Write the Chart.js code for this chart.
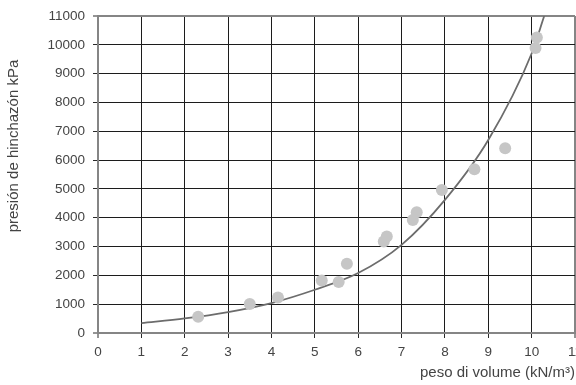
<!DOCTYPE html>
<html>
<head>
<meta charset="utf-8">
<script src="https://cdn.jsdelivr.net/npm/chart.js@4/dist/chart.umd.min.js"></script>
<style>
  html, body { margin: 0; padding: 0; background: #fff; }
  #wrap { width: 576px; height: 385px; }
</style>
</head>
<body>
<div id="wrap"><canvas id="grafico"></canvas></div>
<script>
/** datos medidos (peso di volume kN/m3 , presion kPa) */
let puntos_x = [2.31, 3.50, 4.15, 5.16, 5.55, 5.74, 6.59, 6.66, 7.26, 7.35, 7.93, 8.68, 9.39, 10.09, 10.12]
let puntos_y = [560, 1004, 1230, 1822, 1766, 2400, 3173, 3346, 3924, 4191, 4964, 5681, 6408, 9893, 10253]

/** curva de tendencia */
let curva_x = [1, 2, 3, 4, 5, 6, 7, 8, 9, 10, 10.29]
let curva_y = [346, 506, 727, 1039, 1500, 2080, 3058, 4617, 6695, 9699, 11000]

let ticks_x = [0, 1, 2, 3, 4, 5, 6, 7, 8, 9, 10, 11]
let ticks_y = [0, 1000, 2000, 3000, 4000, 5000, 6000, 7000, 8000, 9000, 10000, 11000]

let titulo_y = "presión de hinchazón kPa"
let titulo_x = "peso di volume (kN/m³)"

let puntos = puntos_x.map(function (x, i) { return { x: x, y: puntos_y[i] } })
let curva = curva_x.map(function (x, i) { return { x: x, y: curva_y[i] } })

let texto = '#444444'

/** color de la grilla: borde gris, interior negro */
function color_grilla(max) {
  return function (c) {
    if (c.tick && (c.tick.value === 0 || c.tick.value === max)) return '#858585'
    return '#1c1c1c'
  }
}
function ancho_grilla(max) {
  return function (c) {
    if (c.tick && (c.tick.value === 0 || c.tick.value === max)) return 2
    return 1
  }
}

/** titulo del eje y dibujado a mano para ubicarlo como en la figura */
let titulo_eje_y = {
  id: 'titulo_eje_y',
  afterDraw: function (chart) {
    let ctx = chart.ctx
    ctx.save()
    ctx.translate(14, 146)
    ctx.rotate(-Math.PI / 2)
    ctx.fillStyle = texto
    ctx.font = '15px "Liberation Sans", Arial, sans-serif'
    ctx.textAlign = 'center'
    ctx.textBaseline = 'middle'
    ctx.fillText(titulo_y, 0, 0)
    ctx.restore()
  }
}

var ctx = document.getElementById("grafico").getContext('2d');
var grafico = new Chart(ctx, {
  type: 'scatter',
  data: {
    datasets: [{
      label: 'medidos',
      data: puntos,
      backgroundColor: '#c6c6c6',
      borderWidth: 0,
      pointRadius: 6,
      pointHoverRadius: 6,
      order: 1
    }, {
      type: 'line',
      label: 'curva',
      data: curva,
      borderColor: '#6c6c6c',
      borderWidth: 1.8,
      pointRadius: 0,
      fill: false,
      cubicInterpolationMode: 'monotone',
      order: 2
    }]
  },
  options: {
    responsive: true,
    maintainAspectRatio: false,
    animation: false,
    events: [],
    layout: { autoPadding: false, padding: { top: 16, right: 1, left: 0, bottom: 0 } },
    plugins: { legend: { display: false }, tooltip: { enabled: false } },
    scales: {
      x: {
        type: 'linear',
        min: 0,
        max: 11,
        afterBuildTicks: function (s) { s.ticks = ticks_x.map(function (v) { return { value: v } }) },
        afterFit: function (s) { s.height = 52; s.paddingRight = 0; s.paddingLeft = 0 },
        ticks: {
          color: texto,
          padding: 6,
          maxRotation: 0,
          autoSkip: false,
          callback: function (v) { return String(v) },
          font: { family: '"Liberation Sans", Arial, sans-serif', size: 13.5 }
        },
        grid: {
          color: color_grilla(11),
          lineWidth: ancho_grilla(11),
          tickColor: '#2a2a2a',
          tickWidth: 1,
          tickLength: 5
        },
        border: { color: '#858585', width: 2 },
        title: {
          display: true,
          text: titulo_x,
          align: 'end',
          color: texto,
          padding: { top: 0, bottom: 3 },
          font: { family: '"Liberation Sans", Arial, sans-serif', size: 15 }
        }
      },
      y: {
        type: 'linear',
        min: 0,
        max: 11000,
        afterBuildTicks: function (s) { s.ticks = ticks_y.map(function (v) { return { value: v } }) },
        afterFit: function (s) { s.width = 98; s.paddingTop = 0; s.paddingBottom = 0 },
        ticks: {
          color: texto,
          padding: 8,
          autoSkip: false,
          callback: function (v) { return String(v) },
          font: { family: '"Liberation Sans", Arial, sans-serif', size: 13.5 }
        },
        grid: {
          color: color_grilla(11000),
          lineWidth: ancho_grilla(11000),
          tickColor: '#2a2a2a',
          tickWidth: 1,
          tickLength: 5
        },
        border: { color: '#858585', width: 2 }
      }
    }
  },
  plugins: [titulo_eje_y]
});
</script>
</body>
</html>
